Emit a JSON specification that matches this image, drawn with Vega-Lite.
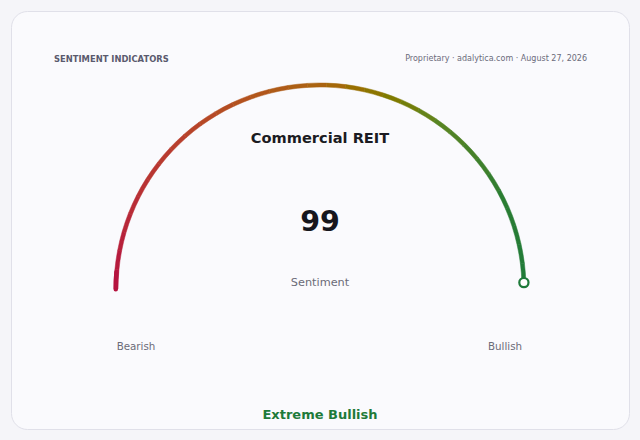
{
  "$schema": "https://vega.github.io/schema/vega-lite/v6.json",
  "width": 640,
  "height": 440,
  "autosize": {"type": "fit", "contains": "padding"},
  "padding": {"left": 11, "top": 11, "right": 11, "bottom": 11},
  "background": "#f5f5f9",
  "config": {
    "view": {"fill": "#fafafd", "stroke": "#e0e0e9", "strokeWidth": 1, "cornerRadius": 16},
    "font": "DejaVu Sans",
    "text": {"font": "DejaVu Sans"}
  },
  "datasets": {
    "segments": [
      {"from": 0, "to": 3}, {"from": 3, "to": 6}, {"from": 6, "to": 9}, {"from": 9, "to": 12},
      {"from": 12, "to": 15}, {"from": 15, "to": 18}, {"from": 18, "to": 21}, {"from": 21, "to": 24},
      {"from": 24, "to": 27}, {"from": 27, "to": 30}, {"from": 30, "to": 33}, {"from": 33, "to": 36},
      {"from": 36, "to": 39}, {"from": 39, "to": 42}, {"from": 42, "to": 45}, {"from": 45, "to": 48},
      {"from": 48, "to": 51}, {"from": 51, "to": 54}, {"from": 54, "to": 57}, {"from": 57, "to": 60},
      {"from": 60, "to": 63}, {"from": 63, "to": 66}, {"from": 66, "to": 69}, {"from": 69, "to": 72},
      {"from": 72, "to": 75}, {"from": 75, "to": 78}, {"from": 78, "to": 81}, {"from": 81, "to": 84},
      {"from": 84, "to": 87}, {"from": 87, "to": 90}, {"from": 90, "to": 93}, {"from": 93, "to": 96},
      {"from": 96, "to": 99}
    ],
    "cap": [{"from": -0.4, "to": 3}],
    "reading": [{"name": "Commercial REIT", "value": 99, "x": 1.0195, "y": 0.032}]
  },
  "layer": [
    {
      "data": {"name": "cap"},
      "mark": {"type": "arc", "innerRadius": 202, "outerRadius": 206.5, "cornerRadius": 2.2, "color": "#b5133f"},
      "encoding": {
        "x": {"datum": 0, "type": "quantitative", "scale": {"domain": [-1.545, 1.545], "nice": false, "zero": false}, "axis": null},
        "y": {"datum": 0, "type": "quantitative", "scale": {"domain": [-0.7, 1.39], "nice": false, "zero": false}, "axis": null},
        "theta": {"field": "from", "type": "quantitative", "stack": false, "scale": {"domain": [0, 100], "range": [-1.5708, 1.5708]}},
        "theta2": {"field": "to"}
      }
    },
    {
      "data": {"name": "segments"},
      "mark": {"type": "arc", "innerRadius": 202, "outerRadius": 206, "strokeWidth": 0.5},
      "encoding": {
        "x": {"datum": 0, "type": "quantitative", "scale": {"domain": [-1.545, 1.545], "nice": false, "zero": false}, "axis": null},
        "y": {"datum": 0, "type": "quantitative", "scale": {"domain": [-0.7, 1.39], "nice": false, "zero": false}, "axis": null},
        "theta": {"field": "from", "type": "quantitative", "stack": false, "scale": {"domain": [0, 100], "range": [-1.5708, 1.5708]}},
        "theta2": {"field": "to"},
        "color": {
          "field": "from", "type": "quantitative", "legend": null,
          "scale": {"domain": [0, 25, 50, 68, 84, 100], "range": ["#b5133f", "#b8402c", "#a8660f", "#5a8422", "#2a7d32", "#1e7a3a"]}
        },
        "stroke": {
          "field": "from", "type": "quantitative", "legend": null,
          "scale": {"domain": [0, 25, 50, 68, 84, 100], "range": ["#b5133f", "#b8402c", "#a8660f", "#5a8422", "#2a7d32", "#1e7a3a"]}
        }
      }
    },
    {
      "data": {"name": "reading"},
      "mark": {"type": "point", "shape": "circle", "size": 85, "filled": false, "fill": "#ffffff", "stroke": "#1e7a3a", "strokeWidth": 2.2, "opacity": 1},
      "encoding": {
        "x": {"field": "x", "type": "quantitative", "scale": {"domain": [-1.545, 1.545], "nice": false, "zero": false}, "axis": null},
        "y": {"field": "y", "type": "quantitative", "scale": {"domain": [-0.7, 1.39], "nice": false, "zero": false}, "axis": null}
      }
    },
    {
      "data": {"name": "reading"},
      "mark": {"type": "text", "fontSize": 14.6, "fontWeight": "bold", "color": "#1b1b22", "baseline": "middle"},
      "encoding": {
        "text": {"field": "name"},
        "x": {"datum": 0, "type": "quantitative", "axis": null},
        "y": {"datum": 0.75, "type": "quantitative", "axis": null}
      }
    },
    {
      "data": {"name": "reading"},
      "mark": {"type": "text", "fontSize": 28.5, "fontWeight": "bold", "color": "#16161d", "baseline": "middle"},
      "encoding": {
        "text": {"field": "value"},
        "x": {"datum": 0, "type": "quantitative", "axis": null},
        "y": {"datum": 0.335, "type": "quantitative", "axis": null}
      }
    },
    {
      "data": {"values": [{"label": "Sentiment"}]},
      "mark": {"type": "text", "fontSize": 11.3, "color": "#6b6b78", "baseline": "middle"},
      "encoding": {
        "text": {"field": "label"},
        "x": {"datum": 0, "type": "quantitative", "axis": null},
        "y": {"datum": 0.03, "type": "quantitative", "axis": null}
      }
    },
    {
      "data": {"values": [{"label": "Bearish"}]},
      "mark": {"type": "text", "fontSize": 10.3, "color": "#6b6b78", "baseline": "middle"},
      "encoding": {
        "text": {"field": "label"},
        "x": {"datum": -0.92, "type": "quantitative", "axis": null},
        "y": {"datum": -0.29, "type": "quantitative", "axis": null}
      }
    },
    {
      "data": {"values": [{"label": "Bullish"}]},
      "mark": {"type": "text", "fontSize": 10.3, "color": "#6b6b78", "baseline": "middle"},
      "encoding": {
        "text": {"field": "label"},
        "x": {"datum": 0.925, "type": "quantitative", "axis": null},
        "y": {"datum": -0.29, "type": "quantitative", "axis": null}
      }
    },
    {
      "data": {"values": [{"label": "Extreme Bullish"}]},
      "mark": {"type": "text", "fontSize": 13, "fontWeight": "bold", "color": "#1e7a3a", "baseline": "middle"},
      "encoding": {
        "text": {"field": "label"},
        "x": {"datum": 0, "type": "quantitative", "axis": null},
        "y": {"datum": -0.63, "type": "quantitative", "axis": null}
      }
    },
    {
      "data": {"values": [{"label": "SENTIMENT INDICATORS"}]},
      "mark": {"type": "text", "fontSize": 8.4, "fontWeight": "bold", "color": "#5a5a6e", "align": "left", "baseline": "middle"},
      "encoding": {
        "text": {"field": "label"},
        "x": {"datum": -1.33, "type": "quantitative", "axis": null},
        "y": {"datum": 1.15, "type": "quantitative", "axis": null}
      }
    },
    {
      "data": {"values": [{"label": "Proprietary · adalytica.com · August 27, 2026"}]},
      "mark": {"type": "text", "fontSize": 8, "color": "#6b6b7b", "align": "right", "baseline": "middle"},
      "encoding": {
        "text": {"field": "label"},
        "x": {"datum": 1.335, "type": "quantitative", "axis": null},
        "y": {"datum": 1.15, "type": "quantitative", "axis": null}
      }
    }
  ]
}
